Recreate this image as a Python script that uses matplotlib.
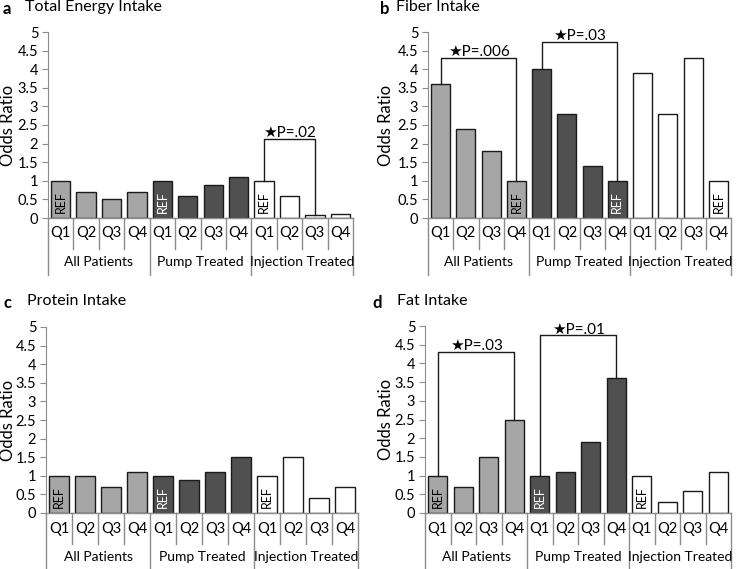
import matplotlib
matplotlib.use("Agg")
import matplotlib.pyplot as plt
import numpy as np

plt.rcParams['font.family'] = ['Lato', 'DejaVu Sans']

quartiles = ["Q1", "Q2", "Q3", "Q4"]
groups = ["All Patients", "Pump Treated", "Injection Treated"]
group_colors = ["#a6a6a6", "#505050", "#ffffff"]

energy = [1.0, 0.7, 0.5, 0.7, 1.0, 0.6, 0.9, 1.1, 1.0, 0.6, 0.08, 0.1]
fiber = [3.6, 2.4, 1.8, 1.0, 4.0, 2.8, 1.4, 1.0, 3.9, 2.8, 4.3, 1.0]
protein = [1.0, 1.0, 0.7, 1.1, 1.0, 0.9, 1.1, 1.5, 1.0, 1.5, 0.4, 0.7]
fat = [1.0, 0.7, 1.5, 2.5, 1.0, 1.1, 1.9, 3.6, 1.0, 0.3, 0.6, 1.1]

# reference quartile index within each group
ref_energy = 0
ref_fiber = 3
ref_protein = 0
ref_fat = 0

# brackets: (start bar, end bar, height, label)
br_energy = [(8, 10, 2.12, "★P=.02")]
br_fiber = [(0, 3, 4.3, "★P=.006"), (4, 7, 4.73, "★P=.03")]
br_protein = []
br_fat = [(0, 3, 4.3, "★P=.03"), (4, 7, 4.75, "★P=.01")]

W, H = 736, 569
fig = plt.figure(figsize=(W / 100, H / 100), dpi=100)

axcol = "#8c8c8c"


def make_panel(box, head, ylab_x, letter, title, vals, ref, brackets):
    left, right, top, bottom = box
    lx, tx, hy = head
    ax = fig.add_axes([left / W, 1 - bottom / H, (right - left) / W, (bottom - top) / H])
    x = np.arange(12)
    colors = [group_colors[i // 4] for i in range(12)]
    ax.bar(x, vals, width=0.76, color=colors, edgecolor="#1a1a1a", linewidth=1.0, zorder=2)
    for g in range(3):
        xi = g * 4 + ref
        ax.text(xi, 0.42, "REF", rotation=90, ha="center", va="center", fontsize=9,
                color="white" if g == 1 else "black", zorder=3)
    for a, b, h, lab in brackets:
        ax.plot([a, a, b, b], [vals[a], h, h, vals[b]], color="#1a1a1a", lw=1.0, zorder=3)
        ax.text((a + b) / 2, h - 0.03, lab, ha="center", va="bottom", fontsize=11)
    ax.set_xlim(-0.5, 11.5)
    ax.set_ylim(0, 5)
    ax.set_yticks(np.arange(0, 5.01, 0.5))
    ax.set_yticklabels([("%g" % v) for v in np.arange(0, 5.01, 0.5)], fontsize=10.5)
    ax.tick_params(axis="y", direction="out", length=4, color=axcol, pad=3)
    ax.set_xticks([])
    for s in ["top", "right", "bottom"]:
        ax.spines[s].set_visible(False)
    ax.spines["left"].set_color(axcol)

    # category axis
    tr = ax.get_xaxis_transform()
    h_px = bottom - top
    q_row = -31 / h_px
    g_row = -57 / h_px
    ax.plot([-0.5, 11.5], [0, 0], color=axcol, lw=1.0, transform=tr, clip_on=False)
    for i in range(13):
        xb = i - 0.5
        y2 = g_row if i % 4 == 0 else q_row
        ax.plot([xb, xb], [0, y2], color=axcol, lw=1.0, transform=tr, clip_on=False)
    for i in range(12):
        ax.text(i, q_row / 2, quartiles[i % 4], transform=tr, ha="center", va="center", fontsize=10.5)
    for g in range(3):
        ax.text(g * 4 + 1.5, (q_row + g_row) / 2, groups[g], transform=tr, ha="center",
                va="center", fontsize=10)

    fig.text(ylab_x / W, 1 - (top + bottom) / 2 / H, "Odds Ratio", rotation=90,
             fontsize=12, ha="center", va="center")
    fig.text(lx / W, 1 - (hy + 2) / H, letter, fontsize=12, fontweight="bold", va="center", ha="left")
    fig.text(tx / W, 1 - hy / H, title, fontsize=11.5, va="center", ha="left")
    return ax


make_panel((48, 353, 32, 218), (3, 25, 7), 8, "a", "Total Energy Intake", energy, ref_energy, br_energy)
make_panel((428, 731, 32, 218), (380, 396, 7), 386, "b", "Fiber Intake", fiber, ref_fiber, br_fiber)
make_panel((46, 358, 327, 513), (3, 27, 301), 8, "c", "Protein Intake", protein, ref_protein, br_protein)
make_panel((425, 731, 326, 513), (372, 397, 301), 386, "d", "Fat Intake", fat, ref_fat, br_fat)

fig.savefig("out.png", dpi=100)
